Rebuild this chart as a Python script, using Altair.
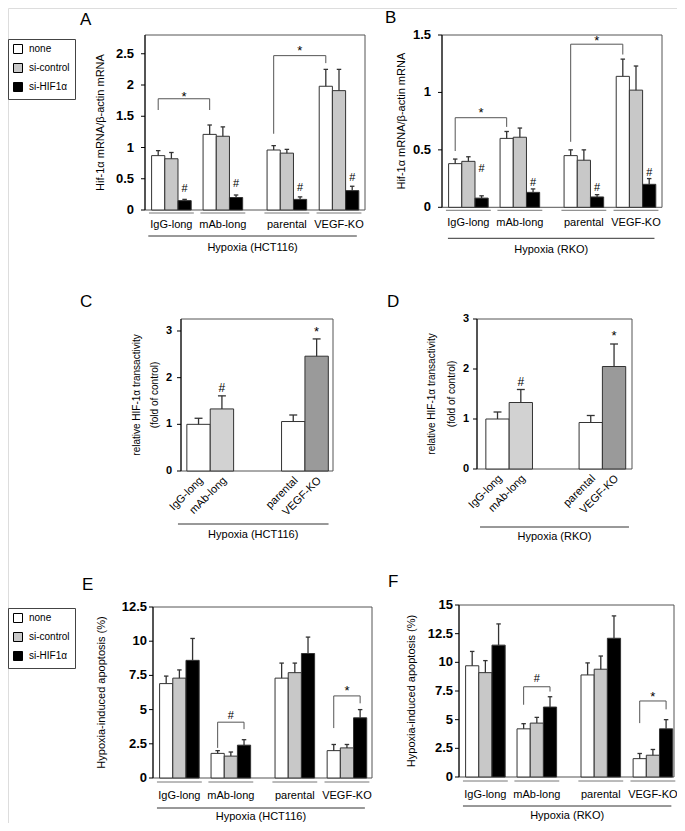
import altair as alt
import pandas as pd

FONT = "Liberation Sans"

groups = ["IgG-long", "mAb-long", "parental", "VEGF-KO"]
conditions = ["none", "si-control", "si-HIF1\u03b1"]
condition_colors = ["#ffffff", "#c8c8c8", "#000000"]

# ---------------- Panel A : Hif-1a mRNA, Hypoxia (HCT116) ----------------
A_none = [0.87, 1.21, 0.96, 1.98]
A_none_sd = [0.08, 0.15, 0.07, 0.27]
A_ctrl = [0.82, 1.18, 0.91, 1.91]
A_ctrl_sd = [0.10, 0.15, 0.06, 0.34]
A_hif = [0.15, 0.20, 0.17, 0.31]
A_hif_sd = [0.02, 0.04, 0.04, 0.07]
A_hash_y = [0.35, 0.44, 0.37, 0.53]
# (group a, condition a, group b, condition b, left foot, top, right foot, symbol, symbol y)
A_brackets = [(0, 0, 1, 0, 1.60, 1.78, 1.60, "*", 1.86),
              (2, 0, 3, 0, 1.22, 2.47, 2.35, "*", 2.60)]
A_ticks = [0, 0.5, 1, 1.5, 2, 2.5]

# ---------------- Panel B : Hif-1a mRNA, Hypoxia (RKO) ----------------
B_none = [0.38, 0.60, 0.45, 1.14]
B_none_sd = [0.04, 0.06, 0.05, 0.15]
B_ctrl = [0.40, 0.61, 0.41, 1.02]
B_ctrl_sd = [0.04, 0.08, 0.09, 0.21]
B_hif = [0.08, 0.13, 0.09, 0.20]
B_hif_sd = [0.02, 0.03, 0.02, 0.05]
B_hash_y = [0.34, 0.22, 0.18, 0.31]
B_brackets = [(0, 0, 1, 0, 0.49, 0.78, 0.70, "*", 0.85),
              (2, 0, 3, 0, 0.57, 1.42, 1.33, "*", 1.47)]
B_ticks = [0, 0.5, 1, 1.5]

# ---------------- Panels C / D : HIF-1a transactivity ----------------
CD_colors = ["#ffffff", "#d2d2d2", "#ffffff", "#9a9a9a"]
C_values = [1.00, 1.33, 1.06, 2.46]
C_sd = [0.13, 0.28, 0.14, 0.37]
C_sig = [(1, "#", 1.77), (3, "*", 3.04)]
D_values = [1.00, 1.33, 0.93, 2.05]
D_sd = [0.14, 0.26, 0.14, 0.45]
D_sig = [(1, "#", 1.75), (3, "*", 2.72)]
CD_ticks = [0, 1, 2, 3]

# ---------------- Panel E : apoptosis, Hypoxia (HCT116) ----------------
E_none = [6.9, 1.8, 7.3, 2.0]
E_none_sd = [0.55, 0.2, 1.1, 0.45]
E_ctrl = [7.3, 1.6, 7.7, 2.2]
E_ctrl_sd = [0.6, 0.3, 0.7, 0.25]
E_hif = [8.6, 2.4, 9.1, 4.4]
E_hif_sd = [1.6, 0.4, 1.2, 0.6]
E_brackets = [(1, 0, 1, 2, 2.2, 4.08, 3.57, "#", 4.6),
              (3, 0, 3, 2, 3.65, 6.0, 5.46, "*", 6.58)]
E_ticks = [0, 2.5, 5, 7.5, 10, 12.5]

# ---------------- Panel F : apoptosis, Hypoxia (RKO) ----------------
F_none = [9.7, 4.2, 8.9, 1.6]
F_none_sd = [1.25, 0.45, 1.05, 0.45]
F_ctrl = [9.1, 4.7, 9.4, 1.9]
F_ctrl_sd = [1.05, 0.5, 1.15, 0.5]
F_hif = [11.5, 6.1, 12.1, 4.2]
F_hif_sd = [1.85, 0.9, 1.95, 0.8]
F_brackets = [(1, 0, 1, 2, 6.3, 7.87, 7.45, "#", 8.6),
              (3, 0, 3, 2, 4.7, 6.63, 5.9, "*", 7.25)]
F_ticks = [0, 2.5, 5, 7.5, 10, 12.5, 15]

# ---------------- layout (pixels / bar units) ----------------
GROUP_CENTERS = [2.0, 5.9, 10.75, 14.7]
CD_BAR_LEFT_C = [0.25, 1.25, 4.3, 5.3]
CD_BAR_LEFT_D = [0.38, 1.38, 4.38, 5.38]
SYM_DY = {"*": 7, "#": 4}


def common_layers(xs, ys, xmax, ymax, ticks, lay):
    X = lambda f: alt.X(f, type="quantitative", scale=xs, axis=None)
    Y = lambda f: alt.Y(f, type="quantitative", scale=ys, axis=None)
    one = pd.DataFrame({"x0": [0.0], "x1": [xmax], "y0": [0.0], "y1": [ymax],
                        "ym": [ymax / 2],
                        "l": [lay["span"][0]], "r": [lay["span"][1]],
                        "m": [(lay["span"][0] + lay["span"][1]) / 2], "t": [lay["sub"]]})
    frame = alt.Chart(one).mark_rect(fillOpacity=0, stroke="#555", strokeWidth=1).encode(
        x=X("x0"), x2="x1:Q", y=Y("y0"), y2="y1:Q")
    axis_line = alt.Chart(one).mark_rule(color="#000", strokeWidth=1).encode(
        x=X("x0"), y=Y("y0"), y2="y1:Q")
    tdf = pd.DataFrame({"t": ticks, "lab": [f"{t:g}" for t in ticks], "zero": [0.0] * len(ticks)})
    tick_marks = alt.Chart(tdf).mark_rule(color="#000", strokeWidth=1, xOffset=-4).encode(
        x=X("zero"), x2="zero:Q", y=Y("t"))
    tick_labels = alt.Chart(tdf).mark_text(font=FONT, fontSize=lay["lfs"], fontWeight="bold",
                                           align="right", baseline="middle", dx=lay["lab_dx"],
                                           color="#000").encode(
        x=X("zero"), y=Y("t"), text="lab:N")
    titles = []
    for line, tdx in zip(lay["title"], lay["title_dx"]):
        titles.append(alt.Chart(one).mark_text(font=FONT, fontSize=lay["tfs"], angle=270,
                                               align="center", baseline="middle", xOffset=tdx,
                                               text=line, color="#000").encode(
            x=X("x0"), y=Y("ym")))
    line = alt.Chart(one).mark_rule(color="#333", strokeWidth=1, yOffset=lay["off"][-2]).encode(
        x=X("l"), x2="r:Q", y=Y("y0"))
    sub = alt.Chart(one).mark_text(font=FONT, fontSize=11, baseline="middle",
                                   yOffset=lay["off"][-1], color="#000").encode(
        x=X("m"), y=Y("y0"), text="t:N")
    letter = alt.Chart(one).mark_text(font=FONT, fontSize=17, align="left", baseline="alphabetic",
                                      dx=lay["ldx"], dy=lay["ldy"], text=lay["letter"],
                                      color="#000").encode(
        x=X("x0"), y=Y("y1"))
    return [frame], [axis_line, tick_marks, tick_labels] + titles + [line, sub, letter]


def grouped_panel(means, sds, hash_y, brackets, ticks, ymax, lay, legend):
    xmax = lay["xmax"]
    xs = alt.Scale(domain=[0, xmax], range=lay["xr"], nice=False, zero=False)
    ys = alt.Scale(domain=[0, ymax], range=lay["yr"], nice=False)
    rows = []
    for g in range(4):
        for c in range(3):
            xc = GROUP_CENTERS[g] + c - 1
            rows.append({"cond": conditions[c], "x0": xc - 0.5, "x1": xc + 0.5, "xc": xc,
                         "cl": xc - 0.17, "cr": xc + 0.17, "mean": means[c][g],
                         "top": means[c][g] + sds[c][g], "zero": 0.0})
    bdf = pd.DataFrame(rows)
    X = lambda f: alt.X(f, type="quantitative", scale=xs, axis=None)
    Y = lambda f: alt.Y(f, type="quantitative", scale=ys, axis=None)

    bars = alt.Chart(bdf).mark_rect(stroke="#333", strokeWidth=1).encode(
        x=X("x0"), x2="x1:Q", y=Y("mean"), y2="zero:Q",
        fill=alt.Fill("cond:N", scale=alt.Scale(domain=conditions, range=condition_colors),
                      legend=legend))
    err = alt.Chart(bdf).mark_rule(color="#333", strokeWidth=1.3).encode(
        x=X("xc"), y=Y("mean"), y2="top:Q")
    cap = alt.Chart(bdf).mark_rule(color="#333", strokeWidth=1.3).encode(
        x=X("cl"), x2="cr:Q", y=Y("top"))

    gdf = pd.DataFrame({"label": groups, "gc": GROUP_CENTERS,
                        "gl": [c - 1.7 for c in GROUP_CENTERS],
                        "gr": [c + 1.7 for c in GROUP_CENTERS], "zero": [0.0] * 4})
    under = alt.Chart(gdf).mark_rule(color="#777", strokeWidth=1, yOffset=lay["off"][0]).encode(
        x=X("gl"), x2="gr:Q", y=Y("zero"))
    glab = alt.Chart(gdf).mark_text(font=FONT, fontSize=11, baseline="middle",
                                    yOffset=lay["off"][1], color="#000").encode(
        x=X("gc"), y=Y("zero"), text="label:N")

    back, front = common_layers(xs, ys, xmax, ymax, ticks, lay)
    layers = back + [bars, err, cap, under, glab] + front

    sym_rows = []
    if hash_y:
        for g in range(4):
            sym_rows.append({"x": GROUP_CENTERS[g] + 1, "y": hash_y[g], "s": "#"})
    line_rows = []
    for i, (ga, ca, gb, cb, yl, yt, yr, sym, sy) in enumerate(brackets):
        xa = GROUP_CENTERS[ga] + ca - 1
        xb = GROUP_CENTERS[gb] + cb - 1
        for k, (px, py) in enumerate([(xa, yl), (xa, yt), (xb, yt), (xb, yr)]):
            line_rows.append({"id": i, "k": k, "x": px, "y": py})
        sym_rows.append({"x": (xa + xb) / 2, "y": sy, "s": sym})
    if line_rows:
        layers.append(alt.Chart(pd.DataFrame(line_rows)).mark_line(color="#555", strokeWidth=1).encode(
            x=X("x"), y=Y("y"), detail="id:N", order="k:Q"))
    sdf = pd.DataFrame(sym_rows)
    for s, fs in (("#", 11), ("*", 13)):
        sub = sdf[sdf["s"] == s]
        if len(sub):
            layers.append(alt.Chart(sub).mark_text(font=FONT, fontSize=fs, baseline="alphabetic",
                                                   dy=SYM_DY[s], color="#000").encode(
                x=X("x"), y=Y("y"), text="s:N"))
    return alt.layer(*layers)


def single_panel(values, sds, sig, lefts, ymax, lay):
    xmax = lay["xmax"]
    xs = alt.Scale(domain=[0, xmax], range=lay["xr"], nice=False, zero=False)
    ys = alt.Scale(domain=[0, ymax], range=lay["yr"], nice=False)
    X = lambda f: alt.X(f, type="quantitative", scale=xs, axis=None)
    Y = lambda f: alt.Y(f, type="quantitative", scale=ys, axis=None)
    df = pd.DataFrame({"label": groups, "x0": lefts, "x1": [v + 1 for v in lefts],
                       "xc": [v + 0.5 for v in lefts], "cl": [v + 0.33 for v in lefts],
                       "cr": [v + 0.67 for v in lefts], "mean": values,
                       "top": [m + s for m, s in zip(values, sds)], "zero": [0.0] * 4})
    bars = alt.Chart(df).mark_rect(stroke="#333", strokeWidth=1).encode(
        x=X("x0"), x2="x1:Q", y=Y("mean"), y2="zero:Q",
        fill=alt.Fill("label:N", scale=alt.Scale(domain=groups, range=CD_colors), legend=None))
    err = alt.Chart(df).mark_rule(color="#333", strokeWidth=1.3).encode(
        x=X("xc"), y=Y("mean"), y2="top:Q")
    cap = alt.Chart(df).mark_rule(color="#333", strokeWidth=1.3).encode(
        x=X("cl"), x2="cr:Q", y=Y("top"))
    labs = alt.Chart(df).mark_text(font=FONT, fontSize=11, angle=315, align="right",
                                   baseline="middle", yOffset=lay["lab_off"][1],
                                   xOffset=lay["lab_off"][0], color="#000").encode(
        x=X("xc"), y=Y("zero"), text="label:N")
    sdf = pd.DataFrame({"x": [lefts[g] + 0.5 for g, _, _ in sig], "s": [s for _, s, _ in sig],
                        "y": [y for _, _, y in sig]})
    back, front = common_layers(xs, ys, xmax, ymax, CD_ticks, lay)
    layers = back + [bars, err, cap, labs] + front
    for s, fs in (("#", 12), ("*", 13)):
        sub = sdf[sdf["s"] == s]
        layers.append(alt.Chart(sub).mark_text(font=FONT, fontSize=fs, baseline="alphabetic",
                                               dy=SYM_DY[s], color="#000").encode(
            x=X("x"), y=Y("y"), text="s:N"))
    return alt.layer(*layers)


def legend_at(y):
    return alt.Legend(orient="none", legendX=0, legendY=y, title=None, strokeColor="#444",
                      fillColor="#ffffff", padding=5, symbolType="square", symbolSize=81,
                      symbolStrokeColor="#000", symbolStrokeWidth=1, labelFont=FONT,
                      labelFontSize=10, labelColor="#000", rowPadding=5, labelOffset=6)


MRNA_TITLE = ["Hif-1\u03b1 mRNA/\u03b2-actin mRNA"]
APOP_TITLE = ["Hypoxia-induced apoptosis (%)"]
TRANS_TITLE = ["relative HIF-1\u03b1 transactivity", "(fold of control)"]

lay_A = dict(xr=[137, 357], xmax=16.67, yr=[202, 27], lfs=13, lab_dx=-11, title=MRNA_TITLE,
             tfs=11, title_dx=[-44], letter="A", ldx=-65, ldy=-10, off=[3, 15, 26, 38],
             sub="Hypoxia (HCT116)", span=[0.25, 16.05])
lay_B = dict(xr=[434, 654], xmax=16.67, yr=[199.3, 27], lfs=13, lab_dx=-11, title=MRNA_TITLE,
             tfs=11, title_dx=[-40], letter="B", ldx=-57, ldy=-12, off=[3, 16, 31, 43],
             sub="Hypoxia (RKO)", span=[0.45, 16.1])
lay_C = dict(xr=[173, 325], xmax=6.5, yr=[463, 311], lfs=11, lab_dx=-9, title=TRANS_TITLE,
             tfs=10, title_dx=[-44, -26], letter="C", ldx=-101, ldy=-12, off=[53, 64],
             lab_off=[3, 8], sub="Hypoxia (HCT116)", span=[-0.13, 6.31])
lay_D = dict(xr=[469, 624], xmax=6.65, yr=[461, 311], lfs=11, lab_dx=-8, title=TRANS_TITLE,
             tfs=10, title_dx=[-45, -25], letter="D", ldx=-90, ldy=-12, off=[58, 68],
             lab_off=[3, 8], sub="Hypoxia (RKO)", span=[0.13, 6.52])
lay_E = dict(xr=[145, 364], xmax=16.6, yr=[770, 599], lfs=13, lab_dx=-6, title=APOP_TITLE,
             tfs=11, title_dx=[-51], letter="E", ldx=-71, ldy=-17, off=[4, 18, 30, 39],
             sub="Hypoxia (HCT116)", span=[0.3, 16.06])
lay_F = dict(xr=[451, 666], xmax=16.3, yr=[769, 597], lfs=13, lab_dx=-6, title=APOP_TITLE,
             tfs=11, title_dx=[-47], letter="F", ldx=-71, ldy=-18, off=[4, 18, 29, 39],
             sub="Hypoxia (RKO)", span=[0.3, 16.1])

pA = grouped_panel([A_none, A_ctrl, A_hif], [A_none_sd, A_ctrl_sd, A_hif_sd], A_hash_y,
                   A_brackets, A_ticks, 2.8, lay_A, legend_at(31))
pB = grouped_panel([B_none, B_ctrl, B_hif], [B_none_sd, B_ctrl_sd, B_hif_sd], B_hash_y,
                   B_brackets, B_ticks, 1.5, lay_B, None)
pC = single_panel(C_values, C_sd, C_sig, CD_BAR_LEFT_C, 3.257, lay_C)
pD = single_panel(D_values, D_sd, D_sig, CD_BAR_LEFT_D, 3.0, lay_D)
pE = grouped_panel([E_none, E_ctrl, E_hif], [E_none_sd, E_ctrl_sd, E_hif_sd], None,
                   E_brackets, E_ticks, 12.5, lay_E, legend_at(600))
pF = grouped_panel([F_none, F_ctrl, F_hif], [F_none_sd, F_ctrl_sd, F_hif_sd], None,
                   F_brackets, F_ticks, 15, lay_F, None)

chart = alt.layer(pA, pB, pC, pD, pE, pF).resolve_scale(
    x="independent", y="independent", fill="independent"
).properties(
    width=669, height=815, padding=0, background="#ffffff",
    autosize=alt.AutoSizeParams(type="none")
).configure_view(strokeWidth=0).configure(font=FONT)

chart.save("out.html", embed_options={"renderer": "svg", "actions": False})
